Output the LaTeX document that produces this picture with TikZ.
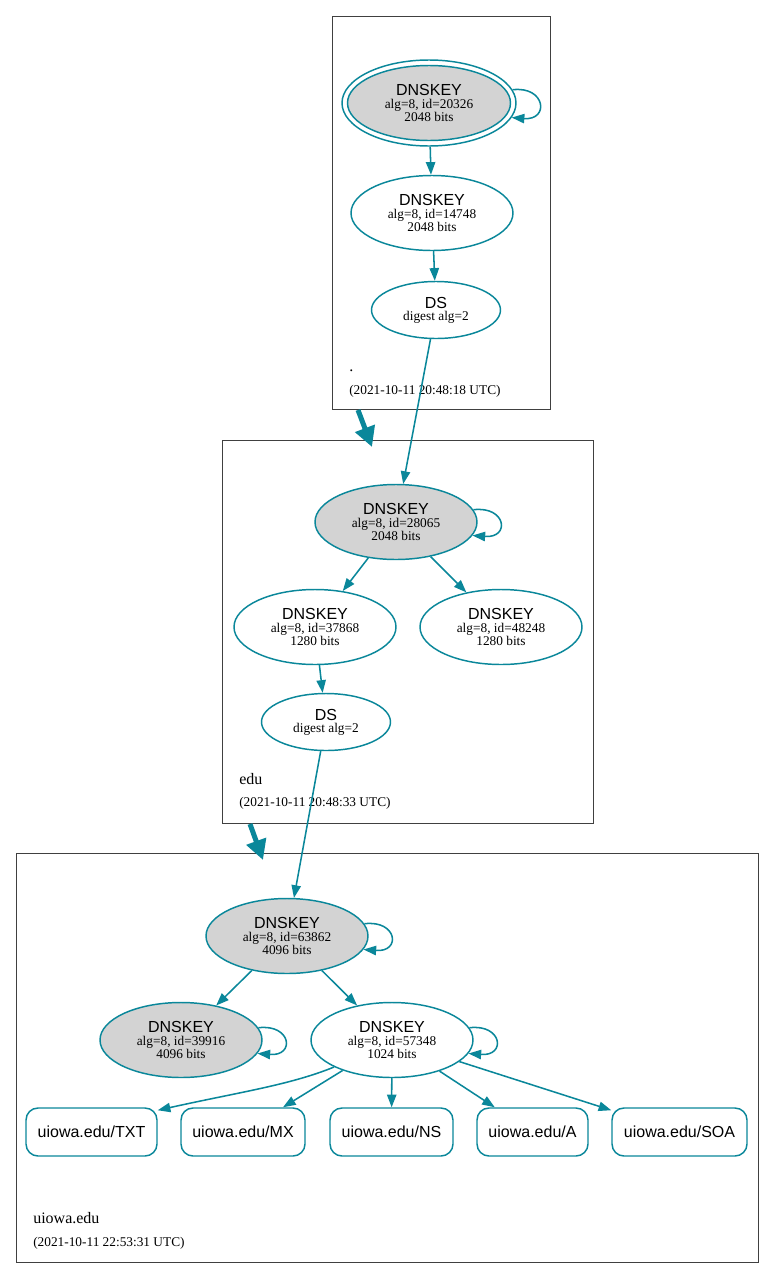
\documentclass[tikz,border=0pt]{standalone}
\usepackage{fontspec}
\setmainfont{Liberation Serif}
\setsansfont{Liberation Sans}
\usetikzlibrary{shapes.geometric,arrows.meta}
\definecolor{dnsteal}{RGB}{10,135,154}
\definecolor{keygray}{RGB}{211,211,211}
\newcommand\keylabel[2]{{\sffamily\fontsize{12}{9.75}\selectfont DNSKEY}\\alg=8, id=#1\\#2 bits}
\newcommand\dslabel{{\sffamily\fontsize{12}{9}\selectfont DS}\\digest alg=2}
\tikzset{
  key/.style={ellipse, draw=dnsteal, line width=1.1pt, fill=white, inner sep=0pt,
    minimum width=121.5pt, minimum height=56.25pt, align=center,
    font=\fontsize{10}{9.75}\selectfont},
  signkey/.style={key, fill=keygray},
  dsnode/.style={ellipse, draw=dnsteal, line width=1.1pt, fill=white, inner sep=0pt,
    minimum width=96.75pt, minimum height=42.75pt, align=center,
    font=\fontsize{10}{9}\selectfont},
  rec/.style={rectangle, rounded corners=9pt, draw=dnsteal, line width=1.1pt, fill=white,
    inner sep=0pt, minimum height=36pt, font=\sffamily\fontsize{12}{14}\selectfont},
  zone/.style={rectangle, draw=black!75, line width=0.6pt, inner sep=0pt},
  zlabel/.style={anchor=base west, inner sep=0pt, font=\fontsize{12}{14}\selectfont},
  ztime/.style={anchor=base west, inner sep=0pt, font=\fontsize{10}{12}\selectfont},
  edge/.style={draw=dnsteal, line width=1.15pt, -{Triangle[length=9.5pt,width=7pt]}},
  deleg/.style={draw=dnsteal, line width=3.75pt, -{Triangle[length=15pt,width=15pt]}},
}
\newcommand\selfloop[1]{\draw[edge] (#1.9) .. controls +(33,-4) and +(38,3) .. (#1.-10);}
\begin{document}
\begin{tikzpicture}[x=0.75pt, y=-0.75pt]
\useasboundingbox (0,0) rectangle (775,1278);
% zones
\node[zone, minimum width=163.5pt, minimum height=294.75pt] (zroot) at (441,212.5) {};
\node[zone, minimum width=278.25pt, minimum height=287.25pt] (zedu) at (407.5,631.5) {};
\node[zone, minimum width=556.5pt, minimum height=306.75pt] (zuiowa) at (387,1057.5) {};
\node[zlabel] (lroot) at (349,371) {.};
\node[ztime] (troot) at (349,394) {(2021-10-11 20:48:18 UTC)};
\node[zlabel] (ledu) at (239,784) {edu};
\node[ztime] (tedu) at (239,806) {(2021-10-11 20:48:33 UTC)};
\node[zlabel] (luiowa) at (33,1223) {uiowa.edu};
\node[ztime] (tuiowa) at (33,1246) {(2021-10-11 22:53:31 UTC)};
% root zone
\node[ellipse, draw=dnsteal, line width=1.1pt, fill=white, inner sep=0pt,
  minimum width=130.5pt, minimum height=64.5pt] (k1o) at (429,103) {};
\node[signkey, minimum width=122.25pt, minimum height=56.25pt] (k1) at (429,103) {\keylabel{20326}{2048}};
\node[key] (k2) at (432,213) {\keylabel{14748}{2048}};
\node[dsnode] (ds1) at (436,310) {\dslabel};
% edu zone
\node[signkey] (k3) at (396,522) {\keylabel{28065}{2048}};
\node[key] (k4) at (315,627) {\keylabel{37868}{1280}};
\node[key] (k5) at (501,627) {\keylabel{48248}{1280}};
\node[dsnode] (ds2) at (326,722) {\dslabel};
% uiowa zone
\node[signkey] (k6) at (287,936) {\keylabel{63862}{4096}};
\node[signkey] (k7) at (181,1040) {\keylabel{39916}{4096}};
\node[key] (k8) at (392,1040) {\keylabel{57348}{1024}};
\node[rec, minimum width=98.25pt] (txt) at (91.5,1132) {uiowa.edu/TXT};
\node[rec, minimum width=93pt] (mx) at (243,1132) {uiowa.edu/MX};
\node[rec, minimum width=92.25pt] (ns) at (391.5,1132) {uiowa.edu/NS};
\node[rec, minimum width=83.25pt] (arec) at (532.5,1132) {uiowa.edu/A};
\node[rec, minimum width=101.25pt] (soa) at (679.5,1132) {uiowa.edu/SOA};
% delegation arrows
\coordinate (d1a) at (358,410);
\coordinate (d1b) at (372,447);
\coordinate (d2a) at (250,824);
\coordinate (d2b) at (263,860);
\draw[deleg] (d1a) -- (d1b);
\draw[deleg] (d2a) -- (d2b);
% edges
\selfloop{k1o}
\draw[edge] (k1o) -- (k2);
\draw[edge] (k2) -- (ds1);
\draw[edge] (ds1) -- (k3);
\selfloop{k3}
\draw[edge] (k3) -- (k4);
\draw[edge] (k3) -- (k5);
\draw[edge] (k4) -- (ds2);
\draw[edge] (ds2) -- (k6);
\selfloop{k6}
\draw[edge] (k6) -- (k7);
\draw[edge] (k6) -- (k8);
\selfloop{k7}
\selfloop{k8}
\draw[edge] (k8.205) .. controls (290,1085) and (240,1092) .. ([yshift=-2.25pt]txt.north east);
\draw[edge] (k8) -- (mx);
\draw[edge] (k8) -- (ns);
\draw[edge] (k8) -- (arec);
\draw[edge] (k8) -- (soa);
\end{tikzpicture}
\end{document}
